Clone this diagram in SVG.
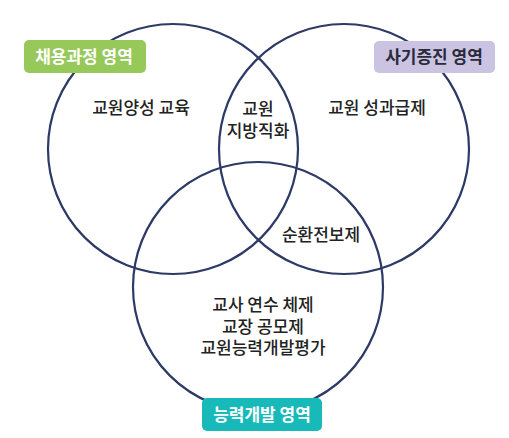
<svg xmlns="http://www.w3.org/2000/svg" width="509" height="438" viewBox="0 0 509 438">
<style>
.c{fill:none;stroke:#2d3a66;stroke-width:2.2}
.t{font-family:"Noto Sans CJK KR","Noto Sans",sans-serif;font-size:17px;font-weight:500;fill:#222;text-anchor:middle}
.l{font-family:"Noto Sans CJK KR","Noto Sans",sans-serif;font-size:17px;font-weight:700;text-anchor:middle}
</style>
<rect width="509" height="438" fill="#fff"/>
<g id="connectors">
<circle class="c" cx="173" cy="149" r="125"/>
<circle class="c" cx="344" cy="149" r="125"/>
<circle class="c" cx="258" cy="287" r="125"/>
</g>
<g id="label-recruit">
<rect x="24" y="40" width="122" height="33" rx="5" fill="#96c85a"/>
<text class="l" x="84" y="62.5" fill="#fff">채용과정 영역</text>
</g>
<g id="label-morale">
<rect x="374" y="41" width="121" height="32" rx="5" fill="#cbc3e2"/>
<text class="l" x="434" y="63" fill="#2a2a3a">사기증진 영역</text>
</g>
<g id="label-dev">
<rect x="202" y="398" width="120" height="33" rx="5" fill="#17b9b9"/>
<text class="l" x="262" y="420.5" fill="#fff">능력개발 영역</text>
</g>
<g id="node-training"><text class="t" x="141" y="114">교원양성 교육</text></g>
<g id="node-local"><text class="t" x="258" y="115">교원</text><text class="t" x="258" y="137">지방직화</text></g>
<g id="node-pay"><text class="t" x="377" y="114">교원 성과급제</text></g>
<g id="node-rotation"><text class="t" x="321" y="241">순환전보제</text></g>
<g id="node-dev"><text class="t" x="263" y="311">교사 연수 체제</text><text class="t" x="263" y="333">교장 공모제</text><text class="t" x="263" y="354">교원능력개발평가</text></g>
</svg>
